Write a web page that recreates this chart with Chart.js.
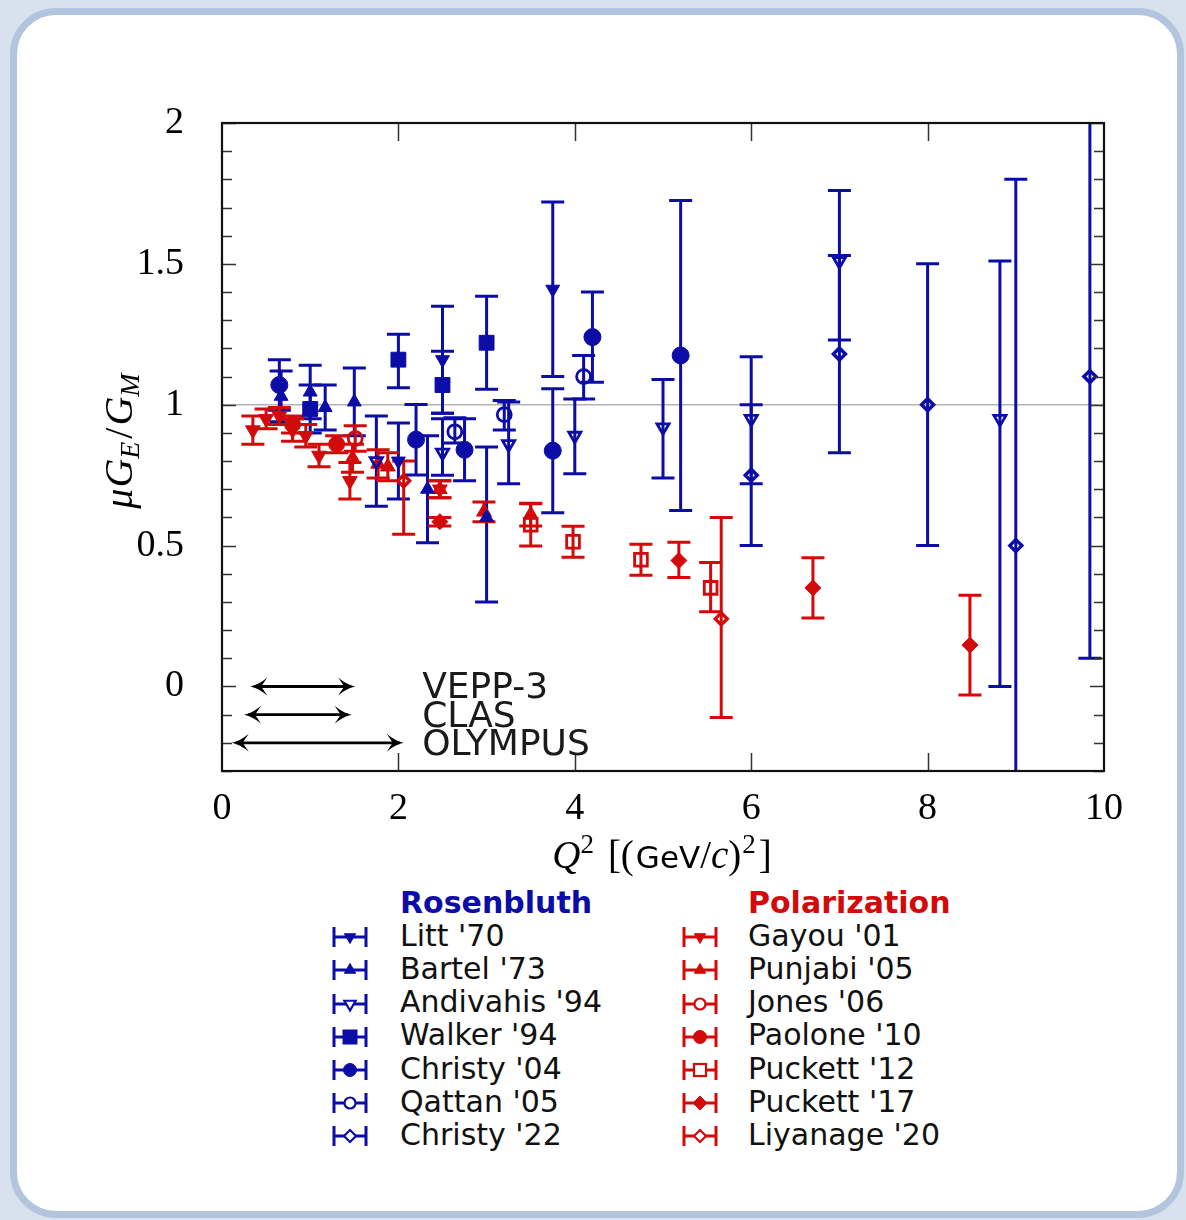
<!DOCTYPE html>
<html>
<head>
<meta charset="utf-8">
<script src="https://cdn.jsdelivr.net/npm/chart.js@4.4.1/dist/chart.umd.min.js"></script>
<style>
  html, body { margin: 0; padding: 0; }
  body {
    width: 1186px; height: 1220px; overflow: hidden; position: relative;
    background: #d8e2ee;
    font-family: "DejaVu Sans", sans-serif;
  }
  .card {
    position: absolute; left: 10px; top: 8px; width: 1160px; height: 1196px;
    background: #fff; border: 7px solid #b3c5de; border-radius: 46px;
  }
  #chartBox { position: absolute; left: 0; top: 0; width: 1186px; height: 880px; }
  .lg-text {
    position: absolute; font-family: "DejaVu Sans", sans-serif; font-size: 30px;
    line-height: 30px; color: #111; white-space: nowrap;
  }
  .lg-head { font-weight: bold; }
  .lg-icon { position: absolute; }
</style>
</head>
<body>
<div class="card"></div>
<div id="chartBox"><canvas id="ratio" width="1186" height="880"></canvas></div>
<div id="legend"></div>

<script>
// ---- Q^2 [(GeV/c)^2], muG_E/G_M, error below, error above ----
// Rosenbluth separations
const litt70      = [[2.0, 0.80, 0.135, 0.135], [2.5, 1.16, 0.19, 0.19], [3.75, 1.41, 0.31, 0.31]];
const bartel73    = [[0.67, 1.03, 0.09, 0.09], [1.0, 1.045, 0.095, 0.095], [1.17, 0.99, 0.08, 0.08],
                     [1.5, 1.01, 0.12, 0.12], [2.33, 0.70, 0.19, 0.19], [3.0, 0.60, 0.30, 0.25]];
const andivahis94 = [[1.75, 0.80, 0.16, 0.16], [2.5, 0.83, 0.08, 0.12], [3.25, 0.86, 0.14, 0.15],
                     [4.0, 0.89, 0.135, 0.13], [5.0, 0.92, 0.18, 0.17], [6.0, 0.95, 0.23, 0.22],
                     [7.0, 1.51, 0.28, 0.25], [8.82, 0.95, 0.95, 0.56]];
const walker94    = [[1.0, 0.985, 0.085, 0.085], [2.0, 1.16, 0.10, 0.09], [2.5, 1.07, 0.10, 0.12],
                     [3.0, 1.22, 0.165, 0.165]];
const christy04   = [[0.65, 1.07, 0.09, 0.09], [2.2, 0.876, 0.125, 0.125], [2.75, 0.84, 0.11, 0.11],
                     [3.75, 0.837, 0.22, 0.22], [4.2, 1.24, 0.16, 0.16], [5.2, 1.175, 0.55, 0.55]];
const qattan05    = [[2.64, 0.904, 0.04, 0.05], [3.2, 0.965, 0.055, 0.05], [4.1, 1.10, 0.08, 0.075]];
const christy22   = [[6.0, 0.75, 0.25, 0.25], [7.0, 1.18, 0.35, 0.35], [8.0, 1.0, 0.5, 0.5],
                     [9.0, 0.5, 1.3, 1.3], [9.84, 1.10, 1.0, 1.0]];

// Polarization transfer
const gayou01     = [[0.35, 0.91, 0.05, 0.05], [0.5, 0.95, 0.035, 0.035], [0.65, 0.96, 0.03, 0.03],
                     [0.8, 0.91, 0.04, 0.04], [0.95, 0.89, 0.04, 0.04], [1.1, 0.82, 0.04, 0.04],
                     [1.45, 0.73, 0.065, 0.065], [2.47, 0.70, 0.03, 0.03]];
const punjabi05   = [[1.48, 0.81, 0.05, 0.05], [1.77, 0.79, 0.05, 0.05], [1.88, 0.78, 0.05, 0.05],
                     [2.47, 0.70, 0.03, 0.03], [2.97, 0.62, 0.035, 0.035], [3.5, 0.61, 0.04, 0.04]];
const jones06     = [[1.51, 0.88, 0.045, 0.045]];
const paolone10   = [[0.8, 0.93, 0.03, 0.03], [1.3, 0.86, 0.03, 0.03]];
const puckett12   = [[3.5, 0.574, 0.075, 0.075], [3.98, 0.514, 0.055, 0.055], [4.75, 0.45, 0.055, 0.055],
                     [5.54, 0.35, 0.085, 0.09]];
const puckett17   = [[2.47, 0.585, 0.015, 0.015], [5.18, 0.447, 0.06, 0.065], [6.7, 0.35, 0.107, 0.107],
                     [8.48, 0.147, 0.177, 0.177]];
const liyanage20  = [[2.06, 0.73, 0.19, 0.07], [5.66, 0.24, 0.35, 0.36]];

// Two-photon exchange experiments: Q^2 coverage drawn as arrows
const tpeNames  = ['VEPP-3', 'CLAS', 'OLYMPUS'];
const tpeQ2Low  = [0.32, 0.25, 0.11];
const tpeQ2High = [1.51, 1.47, 2.06];
const tpeRowY   = [0, -0.1, -0.2];
const tpeLabelQ2 = 2.27;

// Axes
const xTickValues = [0, 2, 4, 6, 8, 10];
const yTickValues = [0, 0.5, 1, 1.5, 2];
const groupTitles = ['Rosenbluth', 'Polarization'];

const BLUE = '#0c0ca6';
const RED  = '#d20a0a';

// series: name, data, marker shape, rotation, filled, radius
const rosenSeries = [
  ["Litt '70",       litt70,      'triangle', 180, true,  8],
  ["Bartel '73",     bartel73,    'triangle', 0,   true,  8],
  ["Andivahis '94",  andivahis94, 'triangle', 180, false, 7],
  ["Walker '94",     walker94,    'rect',     0,   true,  10.5],
  ["Christy '04",    christy04,   'circle',   0,   true,  8.5],
  ["Qattan '05",     qattan05,    'circle',   0,   false, 7],
  ["Christy '22",    christy22,   'rectRot',  0,   false, 6]
];
const polSeries = [
  ["Gayou '01",      gayou01,     'triangle', 180, true,  8.5],
  ["Punjabi '05",    punjabi05,   'triangle', 0,   true,  8.5],
  ["Jones '06",      jones06,     'circle',   0,   false, 7],
  ["Paolone '10",    paolone10,   'circle',   0,   true,  8],
  ["Puckett '12",    puckett12,   'rect',     0,   false, 9],
  ["Puckett '17",    puckett17,   'rectRot',  0,   true,  8],
  ["Liyanage '20",   liyanage20,  'rectRot',  0,   false, 6]
];

function makeDataset(s, color) {
  const [name, rows, shape, rot, filled, r] = s;
  return {
    label: name,
    data: rows.map(p => ({ x: p[0], y: p[1] })),
    errDown: rows.map(p => p[2]),
    errUp: rows.map(p => p[3]),
    pointStyle: shape,
    rotation: rot,
    pointRadius: r,
    pointBackgroundColor: filled ? color : 'rgba(255,255,255,0)',
    pointBorderColor: color,
    pointBorderWidth: filled ? 1 : (shape === 'rectRot' ? 3.4 : 2.8),
    showLine: false,
    barColor: color
  };
}

const datasets = [
  ...rosenSeries.map(s => makeDataset(s, BLUE)),
  ...polSeries.map(s => makeDataset(s, RED))
];

// Decorations: reference line, error bars, frame, inward ticks, arrows, axis titles
const decor = {
  id: 'decor',
  beforeDatasetsDraw(chart) {
    const { ctx, chartArea: a, scales: { x, y } } = chart;
    ctx.save();
    ctx.beginPath();
    ctx.rect(a.left, a.top, a.right - a.left, a.bottom - a.top);
    ctx.clip();
    // unity line
    ctx.strokeStyle = '#b4b4b4';
    ctx.lineWidth = 1.5;
    ctx.beginPath();
    ctx.moveTo(a.left, y.getPixelForValue(1));
    ctx.lineTo(a.right, y.getPixelForValue(1));
    ctx.stroke();
    // error bars
    ctx.lineWidth = 3;
    chart.data.datasets.forEach(ds => {
      ctx.strokeStyle = ds.barColor;
      ds.data.forEach((pt, i) => {
        const px = x.getPixelForValue(pt.x);
        const lo = y.getPixelForValue(pt.y - ds.errDown[i]);
        const hi = y.getPixelForValue(pt.y + ds.errUp[i]);
        const cap = 11.5;
        ctx.beginPath();
        ctx.moveTo(px, lo); ctx.lineTo(px, hi);
        ctx.moveTo(px - cap, lo); ctx.lineTo(px + cap, lo);
        ctx.moveTo(px - cap, hi); ctx.lineTo(px + cap, hi);
        ctx.stroke();
      });
    });
    ctx.restore();
  },
  afterDatasetsDraw(chart) {
    const { ctx, chartArea: a, scales: { x, y } } = chart;
    ctx.save();
    // inward ticks
    ctx.strokeStyle = '#333';
    ctx.lineWidth = 1.5;
    ctx.beginPath();
    for (let k = -3; k <= 20; k++) {
      const v = k / 10;
      const py = Math.round(y.getPixelForValue(v)) + 0.5;
      const len = (k % 5 === 0) ? 14 : 10;
      ctx.moveTo(a.left, py); ctx.lineTo(a.left + len, py);
      ctx.moveTo(a.right, py); ctx.lineTo(a.right - len, py);
    }
    xTickValues.slice(1, -1).forEach(v => {
      const px = Math.round(x.getPixelForValue(v)) + 0.5;
      ctx.moveTo(px, a.bottom); ctx.lineTo(px, a.bottom - 18);
      ctx.moveTo(px, a.top); ctx.lineTo(px, a.top + 18);
    });
    ctx.stroke();
    // frame
    ctx.strokeStyle = '#111';
    ctx.lineWidth = 2.2;
    ctx.strokeRect(a.left, a.top, a.right - a.left, a.bottom - a.top);

    // TPE coverage arrows
    ctx.strokeStyle = '#000';
    ctx.fillStyle = '#000';
    ctx.lineWidth = 2.8;
    tpeNames.forEach((name, i) => {
      const x0 = x.getPixelForValue(tpeQ2Low[i]);
      const x1 = x.getPixelForValue(tpeQ2High[i]);
      const py = y.getPixelForValue(tpeRowY[i]);
      ctx.beginPath();
      ctx.moveTo(x0 + 4, py); ctx.lineTo(x1 - 4, py);
      ctx.stroke();
      [[x0, 1], [x1, -1]].forEach(([tip, dir]) => {
        ctx.beginPath();
        ctx.moveTo(tip, py);
        ctx.quadraticCurveTo(tip + dir * 9, py - 2, tip + dir * 17, py - 9);
        ctx.lineTo(tip + dir * 11, py);
        ctx.lineTo(tip + dir * 17, py + 9);
        ctx.quadraticCurveTo(tip + dir * 9, py + 2, tip, py);
        ctx.fill();
      });
      ctx.font = '36px "DejaVu Sans"';
      ctx.fillStyle = '#1a1a1a';
      ctx.textBaseline = 'alphabetic';
      ctx.textAlign = 'left';
      ctx.fillText(name, x.getPixelForValue(tpeLabelQ2), py + 12);
      ctx.fillStyle = '#000';
    });

    // axis titles
    const serif = '"Liberation Serif"';
    const drawRun = (pieces, cx, baseY) => {
      let total = 0;
      pieces.forEach(p => { ctx.font = p.f; p.w = ctx.measureText(p.t).width; total += p.w + (p.gap || 0); });
      let cur = cx - total / 2;
      pieces.forEach(p => {
        ctx.font = p.f;
        ctx.fillText(p.t, cur, baseY + (p.dy || 0));
        cur += p.w + (p.gap || 0);
      });
    };
    ctx.fillStyle = '#000';
    ctx.textAlign = 'left';
    ctx.textBaseline = 'alphabetic';
    drawRun([
      { t: 'Q', f: `italic 39px ${serif}` },
      { t: '2', f: `27px ${serif}`, dy: -15, gap: 14 },
      { t: '[(', f: `39px ${serif}`, gap: 2 },
      { t: 'GeV', f: '31px "DejaVu Sans"' },
      { t: '/', f: `39px ${serif}` },
      { t: 'c', f: `italic 39px ${serif}` },
      { t: ')', f: `39px ${serif}`, gap: 1 },
      { t: '2', f: `27px ${serif}`, dy: -15, gap: 3 },
      { t: ']', f: `39px ${serif}` }
    ], (a.left + a.right) / 2 - 1, 868);

    ctx.save();
    ctx.translate(132, (a.top + a.bottom) / 2 - 6);
    ctx.rotate(-Math.PI / 2);
    drawRun([
      { t: 'μ', f: `italic 40px ${serif}`, gap: 1 },
      { t: 'G', f: `italic 40px ${serif}` },
      { t: 'E', f: `italic 28px ${serif}`, dy: 7, gap: 3 },
      { t: '/', f: `40px ${serif}`, gap: 2 },
      { t: 'G', f: `italic 40px ${serif}` },
      { t: 'M', f: `italic 28px ${serif}`, dy: 7 }
    ], 0, 0);
    ctx.restore();
    ctx.restore();
  }
};

const tickFont = { family: '"Liberation Serif", serif', size: 38 };

const chart = new Chart(document.getElementById('ratio'), {
  type: 'scatter',
  data: { datasets },
  options: {
    responsive: false,
    animation: false,
    devicePixelRatio: 1,
    layout: { padding: { left: 0, right: 82, top: 123, bottom: 0 } },
    plugins: { legend: { display: false }, tooltip: { enabled: false } },
    scales: {
      x: {
        type: 'linear', min: 0, max: 10,
        grid: { display: false }, border: { display: false },
        afterBuildTicks: s => { s.ticks = xTickValues.map(v => ({ value: v })); },
        afterFit: s => { s.height = 109; },
        ticks: { padding: 7, color: '#000', font: tickFont, maxRotation: 0, autoSkip: false,
                 callback: v => String(v) }
      },
      y: {
        type: 'linear', min: -0.3, max: 2,
        grid: { display: false }, border: { display: false },
        afterBuildTicks: s => { s.ticks = yTickValues.map(v => ({ value: v })); },
        afterFit: s => { s.width = 222; },
        ticks: { padding: 30, color: '#000', font: tickFont, autoSkip: false,
                 callback: v => String(v) }
      }
    }
  },
  plugins: [decor]
});

// ---- legend below the plot ----
function markerSvg(shape, rot, filled, color) {
  const cx = 18, cy = 12;
  const fill = filled ? color : '#fff';
  const sw = filled ? 1 : 2.2;
  let m = '';
  if (shape === 'triangle') {
    const r = 6.5;
    const pts = [0, 120, 240].map(d => {
      const t = (d + rot) * Math.PI / 180;
      return (cx + Math.sin(t) * r).toFixed(2) + ',' + (cy - Math.cos(t) * r).toFixed(2);
    }).join(' ');
    m = `<polygon points="${pts}" fill="${fill}" stroke="${color}" stroke-width="${sw}"/>`;
  } else if (shape === 'circle') {
    m = `<circle cx="${cx}" cy="${cy}" r="${filled ? 6.5 : 5.5}" fill="${fill}" stroke="${color}" stroke-width="${sw}"/>`;
  } else if (shape === 'rect') {
    const h = filled ? 7 : 6;
    m = `<rect x="${cx - h}" y="${cy - h}" width="${2 * h}" height="${2 * h}" fill="${fill}" stroke="${color}" stroke-width="${sw}"/>`;
  } else {
    const r = filled ? 7 : 6;
    m = `<polygon points="${cx},${cy - r} ${cx + r},${cy} ${cx},${cy + r} ${cx - r},${cy}" fill="${fill}" stroke="${color}" stroke-width="${sw}"/>`;
  }
  return `<svg class="lg-icon" width="36" height="24" viewBox="0 0 36 24">` +
    `<path d="M2 12 H34 M2 2 V22 M34 2 V22" stroke="${color}" stroke-width="3" fill="none"/>` + m + `</svg>`;
}

const legendEl = document.getElementById('legend');
const rowStep = 33.2;
const headBaseline = 913;
[[rosenSeries, BLUE, 349.5, 400, groupTitles[0]], [polSeries, RED, 699.5, 748, groupTitles[1]]]
  .forEach(([series, color, iconCx, textX, title]) => {
    let html = `<div class="lg-text lg-head" style="left:${textX}px;top:${headBaseline - 25.4}px;color:${color}">${title}</div>`;
    series.forEach((s, i) => {
      const base = headBaseline + rowStep * (i + 1);
      html += `<div class="lg-text" style="left:${textX}px;top:${(base - 25.4).toFixed(1)}px">${s[0]}</div>`;
      html += `<div style="position:absolute;left:${iconCx - 18}px;top:${(base - 21).toFixed(1)}px">${markerSvg(s[2], s[3], s[4], color)}</div>`;
    });
    legendEl.insertAdjacentHTML('beforeend', html);
  });
</script>
</body>
</html>
